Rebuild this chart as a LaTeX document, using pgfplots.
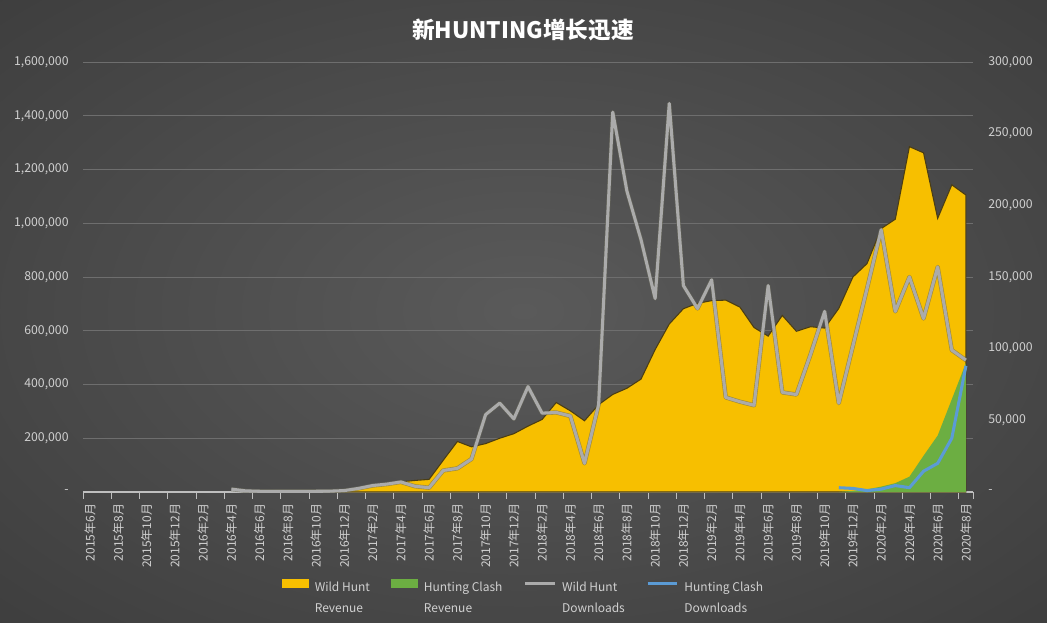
\documentclass[border=0pt]{standalone}
\usepackage{fontspec}
\setmainfont{Noto Sans CJK SC}
\usepackage{pgfplots}
\pgfplotsset{compat=1.18}
\definecolor{bgin}{HTML}{5A5A5A}
\definecolor{bgmid}{HTML}{333333}
\definecolor{bgout}{HTML}{1E1E1E}
\definecolor{wy}{HTML}{F7BF00}
\definecolor{wyedge}{HTML}{4A3D14}
\definecolor{hg}{HTML}{6CAE42}
\definecolor{gl}{HTML}{ABABAB}
\definecolor{gls}{HTML}{6A6A5A}
\definecolor{bl}{HTML}{5B9BD5}
\definecolor{txt}{HTML}{D0D0D0}
\definecolor{gridc}{HTML}{6E6E6E}
\definecolor{axc}{HTML}{BFBFBF}
\pgfdeclareradialshading{bgshade}{\pgfpoint{0bp}{0bp}}{color(0bp)=(bgin); color(50bp)=(bgmid); color(75bp)=(bgout)}
\begin{document}
\begin{tikzpicture}
\shade[shading=bgshade] (0,0) rectangle (785.25pt,466.5pt);
\node[font=\fontsize{17}{20}\selectfont\bfseries, text=white] at (392.25pt,444pt) {新HUNTING增长迅速};
\begin{axis}[
  at={(62.25pt,97.5pt)}, anchor=south west,
  scale only axis, width=667.5pt, height=322.5pt,
  xmin=-0.5, xmax=62.5, ymin=0, ymax=1600000,
  axis x line*=bottom, axis y line*=left,
  x axis line style={draw=axc, line width=0.8pt},
  y axis line style={draw=none},
  xtick={0,2,...,62},
  xticklabels={2015年6月,2015年8月,2015年10月,2015年12月,2016年2月,2016年4月,2016年6月,2016年8月,2016年10月,2016年12月,2017年2月,2017年4月,2017年6月,2017年8月,2017年10月,2017年12月,2018年2月,2018年4月,2018年6月,2018年8月,2018年10月,2018年12月,2019年2月,2019年4月,2019年6月,2019年8月,2019年10月,2019年12月,2020年2月,2020年4月,2020年6月,2020年8月},
  minor xtick={-0.5,1.5,...,61.5,62.5},
  major x tick style={draw=none},
  minor x tick style={draw=axc, line width=0.6pt},
  minor tick length=5pt,
  tick align=outside,
  xticklabel style={rotate=90, anchor=east, font=\fontsize{9}{11}\selectfont, text=txt, xshift=-1pt},
  ytick={0,200000,...,1600000},
  yticklabels={{-},{200,000},{400,000},{600,000},{800,000},{1,000,000},{1,200,000},{1,400,000},{1,600,000}},
  scaled y ticks=false,
  major y tick style={draw=none},
  yticklabel style={font=\fontsize{9.2}{11}\selectfont, text=txt, xshift=-3pt},
  ymajorgrids, grid style={draw=gridc, line width=0.6pt},
]
\addplot[fill=wy, draw=wyedge, line width=0.8pt] coordinates {
(17,0)(18,3000)(19,12000)(20,24000)(21,33000)(22,38000)(23,43000)(24,47000)
(25,118000)(26,188000)(27,168000)(28,180000)(29,200000)(30,217000)(31,245000)
(32,270000)(33,333000)(34,302000)(35,265000)(36,325000)(37,363000)(38,386000)
(39,420000)(40,530000)(41,625000)(42,682000)(43,702000)(44,712000)(45,714000)
(46,688000)(47,612000)(48,580000)(49,657000)(50,598000)(51,615000)(52,610000)
(53,683000)(54,800000)(55,850000)(56,980000)(57,1015000)(58,1285000)(59,1262000)
(60,1018000)(61,1143000)(62,1105000)
} \closedcycle;
\addplot[fill=hg, draw=none] coordinates {
(53,0)(54,4000)(55,10000)(56,20000)(57,33000)(58,57000)(59,135000)(60,210000)
(61,345000)(62,480000)
} \closedcycle;
\end{axis}
\begin{axis}[
  at={(62.25pt,97.5pt)}, anchor=south west,
  scale only axis, width=667.5pt, height=322.5pt,
  xmin=-0.5, xmax=62.5, ymin=0, ymax=300000,
  axis x line=none, axis y line*=right,
  y axis line style={draw=none},
  ytick={0,50000,...,300000},
  yticklabels={{-},{50,000},{100,000},{150,000},{200,000},{250,000},{300,000}},
  scaled y ticks=false,
  major y tick style={draw=none},
  yticklabel style={font=\fontsize{9.2}{11}\selectfont, text=txt, xshift=8pt},
  legend columns=4,
  legend style={at={(0.4955,0)}, anchor=north, yshift=-65pt, draw=none, fill=none,
    font=\fontsize{9}{11}\selectfont, text=txt, inner sep=0pt,
    /tikz/every even column/.append style={column sep=14pt},
    /tikz/every odd column/.append style={column sep=2.5pt}},
]
\addlegendimage{legend image code/.code={\fill[wy] (0pt,0pt) rectangle (19.5pt,6pt);}}
\addlegendentry{\begin{tabular}[t]{@{}l@{}}Wild Hunt\\[4.5pt]Revenue\end{tabular}}
\addlegendimage{legend image code/.code={\fill[hg] (0pt,0pt) rectangle (19.5pt,6pt);}}
\addlegendentry{\begin{tabular}[t]{@{}l@{}}Hunting Clash\\[4.5pt]Revenue\end{tabular}}
\addlegendimage{legend image code/.code={\draw[gl, line width=2.2pt] (0pt,3pt) -- (22pt,3pt);}}
\addlegendentry{\begin{tabular}[t]{@{}l@{}}Wild Hunt\\[4.5pt]Downloads\end{tabular}}
\addlegendimage{legend image code/.code={\draw[bl, line width=2.2pt] (0pt,3pt) -- (22pt,3pt);}}
\addlegendentry{\begin{tabular}[t]{@{}l@{}}Hunting Clash\\[4.5pt]Downloads\end{tabular}}
\addplot[draw=gl, line width=2.3pt, line join=round, forget plot,
  preaction={draw=gls, line width=3.2pt, opacity=0.6}] coordinates {
(10,2000)(11,800)(12,500)(13,500)(14,500)(15,500)(16,500)(17,600)(18,1000)
(19,2500)(20,4500)(21,5500)(22,7000)(23,4000)(24,3000)(25,15000)(26,16500)
(27,23000)(28,54000)(29,62000)(30,51000)(31,73500)(32,55000)(33,55500)(34,53000)
(35,20000)(36,61000)(37,265000)(38,210000)(39,176000)(40,135000)(41,271000)
(42,144000)(43,128000)(44,148000)(45,66000)(46,63000)(47,60500)(48,144000)
(49,69500)(50,68000)(51,96000)(52,126000)(53,62000)(54,102000)(55,142000)
(56,183000)(57,126000)(58,150000)(59,121000)(60,157000)(61,99000)(62,92000)
};
\addplot[draw=bl, line width=2.3pt, line join=round, forget plot] coordinates {
(53,3000)(54,2500)(55,1000)(56,2000)(57,4500)(58,3000)(59,14500)(60,20000)
(61,37500)(62,88000)
};
\end{axis}
\end{tikzpicture}
\end{document}
